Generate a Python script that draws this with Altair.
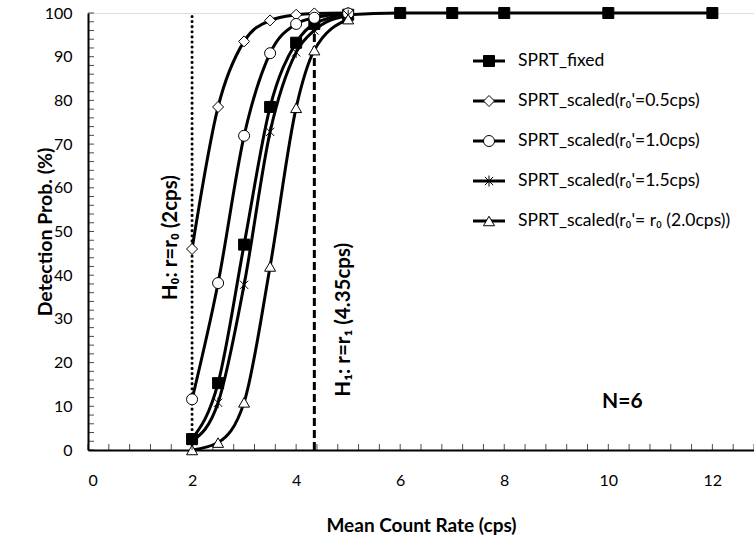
import altair as alt
import pandas as pd

# Mean count rate (cps) at which each detection probability was evaluated
rate_fixed = [2, 2.5, 3, 3.5, 4, 4.35, 5, 6, 7, 8, 10, 12]
rate_scaled = [2, 2.5, 3, 3.5, 4, 4.35, 5]

# Detection probability (%) for each test variant
prob_fixed = [2.5, 15.3, 47.0, 78.5, 93.2, 97.5, 99.6, 100, 100, 100, 100, 100]
prob_r05 = [46.0, 78.5, 93.5, 98.3, 99.6, 99.9, 100]
prob_r10 = [11.6, 38.2, 71.9, 90.8, 97.5, 98.9, 99.9]
prob_r15 = [2.0, 10.8, 37.8, 72.8, 91.0, 96.0, 99.5]
prob_r20 = [0.0, 1.7, 10.9, 42.0, 78.3, 91.5, 98.6]

series_names = [
    "SPRT_fixed",
    "SPRT_scaled(r₀'=0.5cps)",
    "SPRT_scaled(r₀'=1.0cps)",
    "SPRT_scaled(r₀'=1.5cps)",
    "SPRT_scaled(r₀'= r₀ (2.0cps))",
]
series_rates = [rate_fixed, rate_scaled, rate_scaled, rate_scaled, rate_scaled]
series_probs = [prob_fixed, prob_r05, prob_r10, prob_r15, prob_r20]

# Hypothesis rates
r0 = 2.0
r1 = 4.35

ASTERISK = "M-0.75,-0.75L0.75,0.75M-0.75,0.75L0.75,-0.75M0,-1L0,1"
marker_shapes = ["square", "diamond", "circle", ASTERISK, "triangle-up"]
marker_fills = ["black", "white", "white", "white", "white"]

rows = []
for i, (name, xs, ys) in enumerate(zip(series_names, series_rates, series_probs)):
    for x, y in zip(xs, ys):
        rows.append({"series": name, "order": i, "rate": x, "prob": y})
df = pd.DataFrame(rows)

FONT = "Lato"
W, H = 666, 437
X_MAX = 12.8

x_scale = alt.Scale(domain=[0, X_MAX], nice=False, zero=False)
y_scale = alt.Scale(domain=[0, 100], nice=False)

x_axis = alt.Axis(
    values=list(range(0, 13, 2)), ticks=False, grid=False,
    domainColor="black", domainWidth=2, labelColor="black",
    labelFont=FONT, labelFontSize=16, labelPadding=22,
    title="Mean Count Rate (cps)", titleFont=FONT, titleFontSize=19,
    titleFontWeight="bold", titleColor="black",
    titleX=333, titleY=75, titleBaseline="middle", titleAnchor="middle",
)
y_axis = alt.Axis(
    values=list(range(0, 101, 10)), ticks=False, grid=False,
    domainColor="black", domainWidth=2, labelColor="black",
    labelFont=FONT, labelFontSize=16, labelPadding=16,
    title="Detection Prob. (%)", titleFont=FONT, titleFontSize=19.5,
    titleFontWeight="bold", titleColor="black",
    titleX=-43, titleY=H / 2, titleAngle=270, titleAlign="center",
    titleBaseline="middle",
)

X = alt.X("rate:Q", scale=x_scale, axis=x_axis)
Y = alt.Y("prob:Q", scale=y_scale, axis=y_axis)

# Inward minor tick marks on both axes
xticks_df = pd.DataFrame({"rate": [round(0.4 * k, 2) for k in range(0, 33)]})
yticks_df = pd.DataFrame({"prob": list(range(0, 101, 2))})
x_ticks = alt.Chart(xticks_df).mark_tick(color="black", size=6, thickness=1).encode(
    x=alt.X("rate:Q", scale=x_scale, axis=x_axis), y=alt.value(H - 3)
)
y_ticks = alt.Chart(yticks_df).mark_tick(color="black", size=6, thickness=1).encode(
    y=alt.Y("prob:Q", scale=y_scale, axis=y_axis), x=alt.value(3)
)

# Hypothesis reference lines
h0_df = pd.DataFrame({"rate": [r0], "lo": [0], "hi": [100]})
h1_df = pd.DataFrame({"rate": [r1], "lo": [0], "hi": [100]})
h0_line = alt.Chart(h0_df).mark_rule(
    color="black", strokeWidth=3, strokeDash=[0.1, 5], strokeCap="round"
).encode(x=alt.X("rate:Q", scale=x_scale), y=alt.Y("lo:Q", scale=y_scale), y2="hi:Q")
h1_line = alt.Chart(h1_df).mark_rule(
    color="black", strokeWidth=3, strokeDash=[8, 4]
).encode(x=alt.X("rate:Q", scale=x_scale), y=alt.Y("lo:Q", scale=y_scale), y2="hi:Q")

# Smoothed curves and markers
curves = alt.Chart(df).mark_line(
    color="black", strokeWidth=3, interpolate="monotone"
).encode(x=X, y=Y, detail="series:N", order="rate:Q")

markers = alt.Chart(df).mark_point(
    filled=True, stroke="black", strokeWidth=1, size=121, opacity=1
).encode(
    x=X, y=Y,
    shape=alt.Shape("series:N", scale=alt.Scale(domain=series_names, range=marker_shapes), legend=None),
    fill=alt.Fill("series:N", scale=alt.Scale(domain=series_names, range=marker_fills), legend=None),
    order="order:Q",
)

# Annotations
notes_df = pd.DataFrame({
    "rate": [1.6, 4.92],
    "prob": [48.6, 29.8],
    "txt": ["H₀: r=r₀ (2cps)", "H₁: r=r₁ (4.35cps)"],
})
notes = alt.Chart(notes_df).mark_text(
    angle=270, font=FONT, fontSize=20.5, fontWeight="bold", color="black",
    align="center", baseline="middle",
).encode(x=alt.X("rate:Q", scale=x_scale), y=alt.Y("prob:Q", scale=y_scale), text="txt:N")

n_df = pd.DataFrame({"rate": [10.27], "prob": [11.0], "txt": ["N=6"]})
n_note = alt.Chart(n_df).mark_text(
    font=FONT, fontSize=21, fontWeight="bold", color="black",
    align="center", baseline="middle",
).encode(x=alt.X("rate:Q", scale=x_scale), y=alt.Y("prob:Q", scale=y_scale), text="txt:N")

# Legend drawn as line + marker + label rows
LEG_X0, LEG_X1, LEG_TXT = 385, 417, 430
LEG_Y0, LEG_DY = 48, 40
one_row = pd.DataFrame({"k": [0]})
legend_layers = []
for i, name in enumerate(series_names):
    ly = LEG_Y0 + i * LEG_DY
    legend_layers.append(
        alt.Chart(one_row).mark_rule(color="black", strokeWidth=3).encode(
            x=alt.value(LEG_X0), x2=alt.value(LEG_X1), y=alt.value(ly)
        )
    )
    legend_layers.append(
        alt.Chart(one_row).mark_point(
            shape=marker_shapes[i], filled=True, fill=marker_fills[i],
            stroke="black", strokeWidth=1, size=121, opacity=1,
        ).encode(x=alt.value((LEG_X0 + LEG_X1) / 2), y=alt.value(ly))
    )
    legend_layers.append(
        alt.Chart(one_row).mark_text(
            text=name, font=FONT, fontSize=17.5, color="black",
            align="left", baseline="middle",
        ).encode(x=alt.value(LEG_TXT), y=alt.value(ly))
    )

chart = alt.layer(
    h0_line, h1_line, curves, markers, x_ticks, y_ticks, notes, n_note, *legend_layers
).properties(
    width=W, height=H,
    autosize=alt.AutoSizeParams(type="none"),
    padding={"left": 88, "top": 13, "right": 0, "bottom": 89},
).configure_view(
    stroke="black", strokeWidth=1
).configure(background="white")

chart.save("out.html", embed_options={"renderer": "svg", "actions": False})
